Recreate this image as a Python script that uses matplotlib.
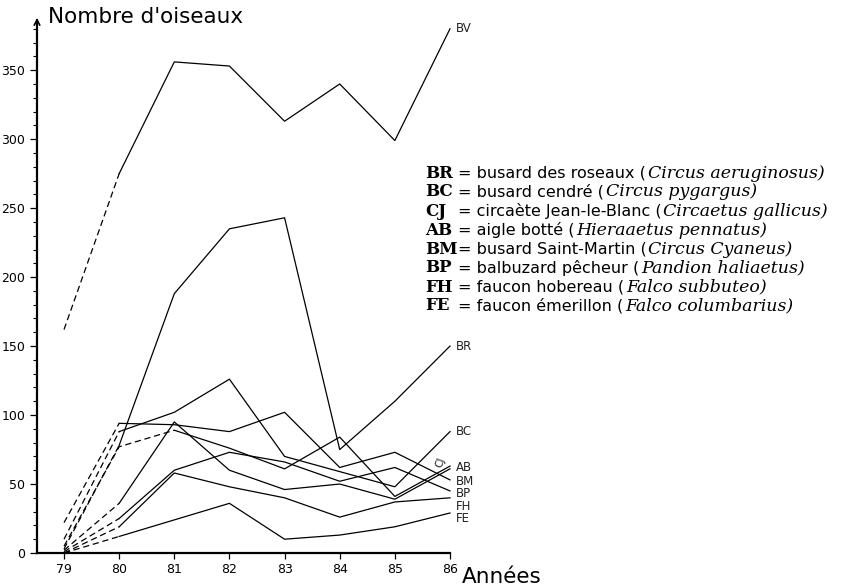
import numpy as np
import matplotlib.pyplot as plt
from matplotlib.ticker import MultipleLocator

years = [79, 80, 81, 82, 83, 84, 85, 86]

# nombre d'oiseaux par espece
BV = [162, 275, 356, 353, 313, 340, 299, 380]
BR = [3, 78, 188, 235, 243, 75, 110, 150]
BC = [10, 88, 102, 126, 70, 59, 48, 88]
CJ = [5, 77, 89, 76, 61, 84, 41, 63]
AB = [2, 36, 95, 60, 46, 50, 39, 61]
BM = [22, 94, 93, 88, 102, 62, 73, 53]
BP = [1, 25, 60, 73, 66, 52, 62, 45]
FH = [0, 19, 58, 48, 40, 26, 37, 40]
FE = [0, 12, 24, 36, 10, 13, 19, 29]

series = {'BV': BV, 'BR': BR, 'BC': BC, 'CJ': CJ, 'AB': AB,
          'BM': BM, 'BP': BP, 'FH': FH, 'FE': FE}
# nombre de points en pointilles au debut de chaque courbe
n_dash = {'CJ': 3}

label_y = {'BV': 380, 'BR': 150, 'BC': 88, 'AB': 62, 'BM': 52,
           'BP': 43, 'FH': 34, 'FE': 25}

legend_abbr = ['BR', 'BC', 'CJ', 'AB', 'BM', 'BP', 'FH', 'FE']
legend_name = ['busard des roseaux', 'busard cendré', 'circaète Jean-le-Blanc',
               'aigle botté', 'busard Saint-Martin', 'balbuzard pêcheur',
               'faucon hobereau', 'faucon émerillon']
legend_latin = ['Circus aeruginosus', 'Circus pygargus', 'Circaetus gallicus',
                'Hieraaetus pennatus', 'Circus Cyaneus', 'Pandion haliaetus',
                'Falco subbuteo', 'Falco columbarius']

fig = plt.figure(figsize=(8.43, 5.86), dpi=100)
ax = fig.add_axes([37 / 843, 33 / 586, 413 / 843, 538 / 586])

for name, vals in series.items():
    k = n_dash.get(name, 2)
    ax.plot(years[:k], vals[:k], color='black', lw=0.9, ls=(0, (5, 3)),
            clip_on=False)
    ax.plot(years[k - 1:], vals[k - 1:], color='black', lw=0.9, clip_on=False)

for name, yv in label_y.items():
    ax.text(86.1, yv, name, fontsize=8.5, family='DejaVu Sans', va='center',
            ha='left', color='#222222')
ax.text(85.82, 66, 'CJ', fontsize=7.5, rotation=70, va='center', ha='center',
        color='#222222')

ax.set_xlim(78.51, 86)
ax.set_ylim(0, 390)
ax.spines['top'].set_visible(False)
ax.spines['right'].set_visible(False)
ax.spines['left'].set_linewidth(1.6)
ax.spines['bottom'].set_linewidth(1.6)
ax.spines['left'].set_bounds(0, 385)

ax.set_xticks(years)
ax.set_xticklabels([str(y) for y in years], fontsize=9)
ax.set_yticks(np.arange(0, 351, 50))
ax.set_yticks(np.arange(0, 381, 10), minor=True)
ax.tick_params(axis='y', which='major', length=5, width=0.9, labelsize=9)
ax.tick_params(axis='y', which='minor', length=3, width=0.8)
ax.tick_params(axis='x', length=4, width=0.9, labelsize=9)

ax.annotate('', xy=(0, 1.0), xycoords='axes fraction', xytext=(0, 0.97),
            arrowprops=dict(arrowstyle='->', lw=1.2, color='black'))
fig.text(48 / 843, 1 - 17 / 586, "Nombre d'oiseaux", fontsize=15.5, va='center')
fig.text(462 / 843, 1 - 577 / 586, 'Années', fontsize=15.5, va='center')

y0 = 173
for i in range(len(legend_abbr)):
    yy = 1 - (y0 + 19 * i) / 586
    fig.text(425 / 843, yy, legend_abbr[i], fontsize=12, family='DejaVu Serif',
             weight='bold', va='center')
    fig.text(458 / 843, yy, '= ' + legend_name[i] + ' (', fontsize=11.5,
             family='DejaVu Sans', va='center')
    fig.canvas.draw()
    r = fig.texts[-1].get_window_extent()
    fig.text(r.x1 / 843 + 0.002, yy, legend_latin[i] + ')', fontsize=12.5,
             family='DejaVu Serif', style='italic', va='center')

fig.savefig('out.png', dpi=100)
